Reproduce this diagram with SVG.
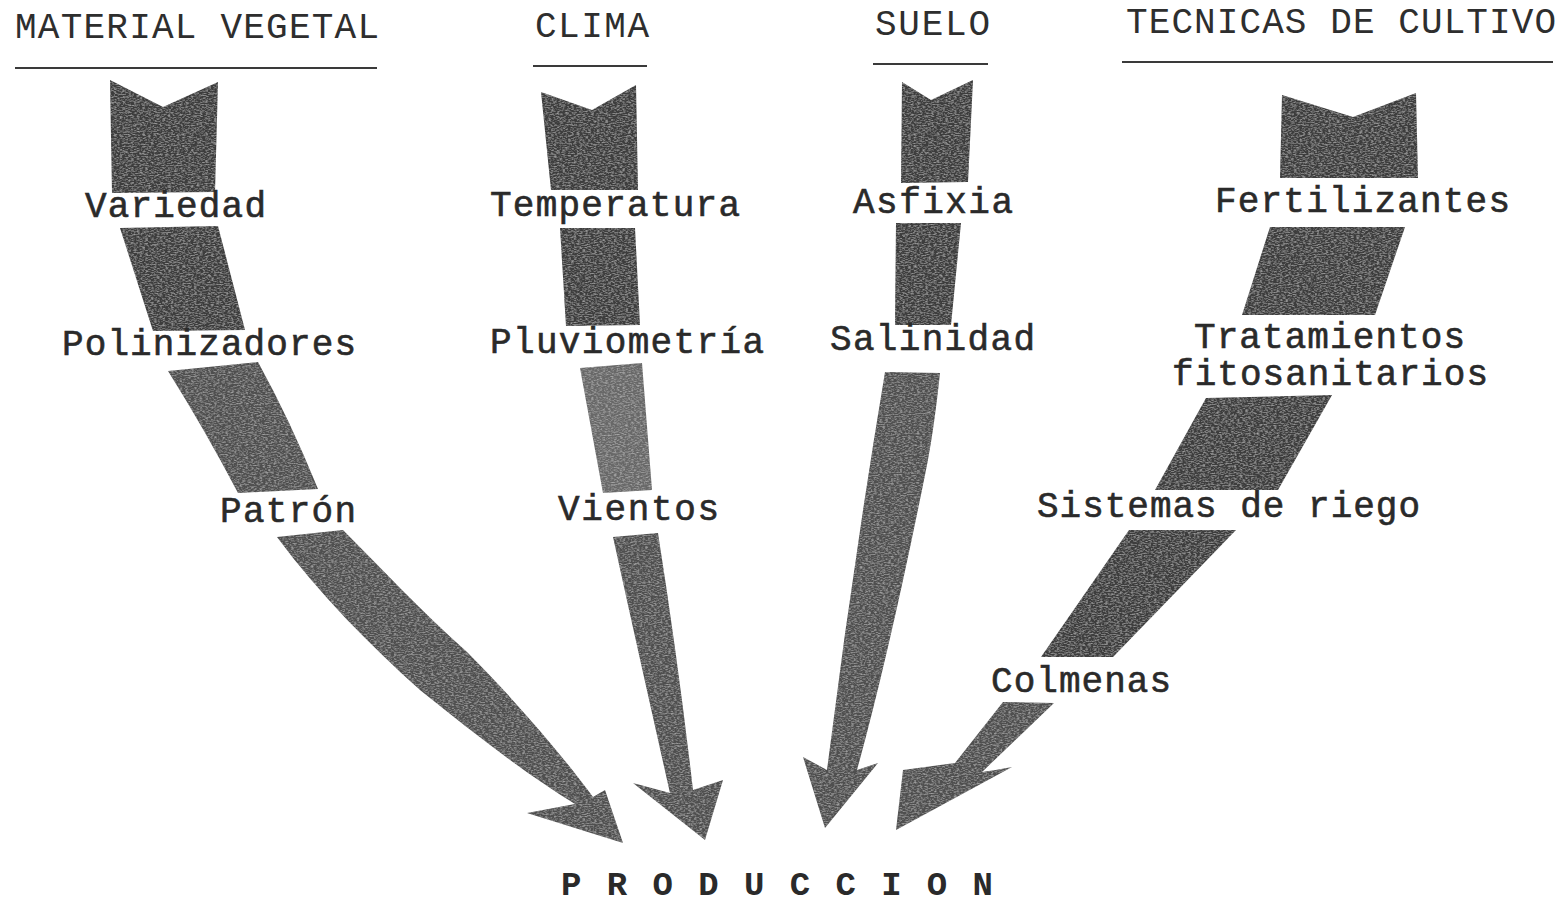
<svg xmlns="http://www.w3.org/2000/svg" width="1567" height="903" viewBox="0 0 1567 903">
<defs>
<style>
.t{font-family:"Liberation Mono","Courier New",monospace;font-size:36px;fill:#2e2e2e}
.lb{font-family:"Liberation Mono","Courier New",monospace;font-size:36px;fill:#2a2a2a;stroke:#2a2a2a;stroke-width:0.6}
.pr{font-family:"Liberation Mono","Courier New",monospace;font-size:34px;font-weight:bold;fill:#2a2a2a}
.ul{stroke:#3a3a3a;stroke-width:2;fill:none}
.d{fill:#3e3e3e;filter:url(#grain)}
.m{fill:#4f4f4f;filter:url(#grain)}
.l{fill:#686868;filter:url(#grain)}
</style>
<filter id="grain" x="0" y="0" width="1" height="1">
<feTurbulence type="fractalNoise" baseFrequency="0.35 0.9" numOctaves="2" seed="4" result="n"/>
<feColorMatrix in="n" type="matrix" values="0 0 0 0 1  0 0 0 0 1  0 0 0 0 1  0.7 0 0 0 -0.3" result="sp"/>
<feComposite in="sp" in2="SourceGraphic" operator="in" result="spi"/>
<feMerge><feMergeNode in="SourceGraphic"/><feMergeNode in="spi"/></feMerge>
</filter>
</defs>
<rect width="1567" height="903" fill="#ffffff"/>

<g id="connectors">
  <!-- Material vegetal -->
  <path class="d" d="M110,80 L163,107 L218,82 L215,192 L112,193 Z"/>
  <path class="d" d="M120,228 L218,226 L245,330 L153,331 Z"/>
  <path class="m" d="M168,371 L258,362 Q290,420 318,489 L238,493 Q205,430 168,371 Z"/>
  <path class="m" d="M277,537 L343,530 C380,567 420,610 467,652 C510,695 560,752 593,797 L605,790 L623,843 L527,813 L575,804 C520,770 470,730 420,690 C370,645 320,595 277,537 Z"/>
  <!-- Clima -->
  <path class="d" d="M541,92 L592,110 L636,85 L638,190 L551,190 Z"/>
  <path class="d" d="M560,228 L635,228 L640,325 L566,326 Z"/>
  <path class="l" d="M580,368 L642,363 L652,490 L603,493 Z"/>
  <path class="m" d="M613,537 L658,533 Q678,660 693,790 L723,780 L705,840 L633,783 L670,793 Q640,660 613,537 Z"/>
  <!-- Suelo -->
  <path class="d" d="M902,82 L931,100 L973,80 L968,182 L901,183 Z"/>
  <path class="d" d="M896,223 L961,223 L951,325 L895,325 Z"/>
  <path class="m" d="M885,372 L940,373 Q934,430 926,470 Q890,650 857,770 L878,763 L825,828 L803,757 L827,770 Q852,570 885,372 Z"/>
  <!-- Tecnicas de cultivo -->
  <path class="d" d="M1282,95 L1353,117 L1416,93 L1418,178 L1280,178 Z"/>
  <path class="d" d="M1270,227 L1405,227 L1375,315 L1242,315 Z"/>
  <path class="d" d="M1206,398 L1332,395 L1278,490 L1155,490 Z"/>
  <path class="d" d="M1129,530 L1236,530 L1113,657 L1041,657 Z"/>
  <path class="m" d="M1003,702 L1054,703 L982,772 Q997,770 1012,767 L896,830 L903,770 L955,763 Z"/>
</g>

<g id="title-material">
  <text class="t" x="15" y="38" textLength="364">MATERIAL VEGETAL</text>
  <line class="ul" x1="15" y1="68" x2="377" y2="68"/>
</g>
<g id="title-clima">
  <text class="t" x="535" y="37" textLength="114">CLIMA</text>
  <line class="ul" x1="533" y1="66" x2="647" y2="66"/>
</g>
<g id="title-suelo">
  <text class="t" x="875" y="35" textLength="115">SUELO</text>
  <line class="ul" x1="873" y1="64" x2="988" y2="64"/>
</g>
<g id="title-tecnicas">
  <text class="t" x="1126" y="33" textLength="430">TECNICAS DE CULTIVO</text>
  <line class="ul" x1="1122" y1="62" x2="1553" y2="62"/>
</g>

<g id="node-variedad"><text class="lb" x="85" y="217" textLength="181">Variedad</text></g>
<g id="node-polinizadores"><text class="lb" x="62" y="355" textLength="294">Polinizadores</text></g>
<g id="node-patron"><text class="lb" x="220" y="522" textLength="136">Patrón</text></g>

<g id="node-temperatura"><text class="lb" x="490" y="216" textLength="250">Temperatura</text></g>
<g id="node-pluviometria"><text class="lb" x="490" y="353" textLength="274">Pluviometría</text></g>
<g id="node-vientos"><text class="lb" x="558" y="520" textLength="161">Vientos</text></g>

<g id="node-asfixia"><text class="lb" x="853" y="213" textLength="160">Asfixia</text></g>
<g id="node-salinidad"><text class="lb" x="830" y="350" textLength="205">Salinidad</text></g>

<g id="node-fertilizantes"><text class="lb" x="1215" y="212" textLength="295">Fertilizantes</text></g>
<g id="node-tratamientos">
  <text class="lb" x="1194" y="348" textLength="271">Tratamientos</text>
  <text class="lb" x="1172" y="385" textLength="316">fitosanitarios</text>
</g>
<g id="node-riego"><text class="lb" x="1037" y="517" textLength="383">Sistemas de riego</text></g>
<g id="node-colmenas"><text class="lb" x="991" y="692" textLength="180">Colmenas</text></g>

<g id="node-produccion"><text class="pr" x="561" y="895" textLength="432">PRODUCCION</text></g>
</svg>
